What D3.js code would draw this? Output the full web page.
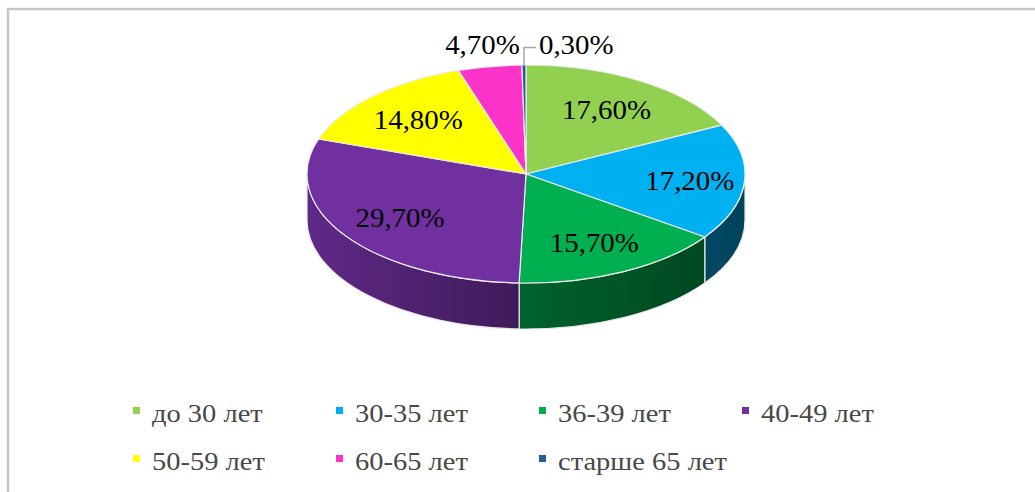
<!DOCTYPE html>
<html>
<head>
<meta charset="utf-8">
<script src="https://cdn.jsdelivr.net/npm/d3@7"></script>
<style>
  body { margin: 0; background: #fff; }
</style>
</head>
<body>
<svg id="chart" width="1035" height="492"></svg>
<script>
// data
var categories = ["до 30 лет", "30-35 лет", "36-39 лет", "40-49 лет", "50-59 лет", "60-65 лет", "старше 65 лет"];
var values = [17.6, 17.2, 15.7, 29.7, 14.8, 4.7, 0.3];
var labels = ["17,60%", "17,20%", "15,70%", "29,70%", "14,80%", "4,70%", "0,30%"];
var colors = ["#92d050", "#00b0f0", "#00b050", "#7030a0", "#ffff00", "#fb33c8", "#255e91"];

var serif = "'Liberation Serif', 'DejaVu Serif', serif";

var svg = d3.select("#chart")
  .style("font-family", serif);

// chart frame (only top and left edges are visible in the picture)
svg.append("rect")
  .attr("x", 8).attr("y", 9)
  .attr("width", 1200).attr("height", 600)
  .style("fill", "none")
  .style("stroke", "#c8c8c8")
  .style("stroke-width", 2.5);

var cx = 526, cy = 174, rx = 219, ry = 109, depth = 46;

var pie = d3.pie().sort(null).value(function(d) { return d; });
var arcs = pie(values);

// projected point on the ellipse, angle clockwise from 12 o'clock
function pt(a, dy) {
  return [cx + rx * Math.sin(a), cy - ry * Math.cos(a) + (dy || 0)];
}

var defs = svg.append("defs");
var shade = d3.scaleLinear().domain([cx - rx, cx, cx + rx]).range([0.85, 0.55, 0.38]);

arcs.forEach(function(d, i) {
  var g = defs.append("linearGradient")
    .attr("id", "side" + i)
    .attr("gradientUnits", "userSpaceOnUse")
    .attr("x1", cx - rx).attr("x2", cx + rx)
    .attr("y1", 0).attr("y2", 0);
  var c = d3.rgb(colors[i]);
  [cx - rx, cx, cx + rx].forEach(function(x, k) {
    var f = shade(x);
    g.append("stop")
      .attr("offset", k / 2)
      .attr("stop-color", d3.rgb(c.r * f, c.g * f, c.b * f));
  });
});

// sides: only the front half (pi/2 .. 3pi/2) is seen
var sides = svg.append("g");
arcs.forEach(function(d, i) {
  var b0 = Math.max(d.startAngle, Math.PI / 2);
  var b1 = Math.min(d.endAngle, Math.PI * 3 / 2);
  if (b1 <= b0) return;
  var p0 = pt(b0), p1 = pt(b1), q1 = pt(b1, depth), q0 = pt(b0, depth);
  var path = "M" + p0 + "A" + rx + "," + ry + " 0 0 1 " + p1 +
    "L" + q1 + "A" + rx + "," + ry + " 0 0 0 " + q0 + "Z";
  sides.append("path")
    .attr("d", path)
    .style("fill", "url(#side" + i + ")")
    .style("stroke", "#e8e8e8")
    .style("stroke-width", 1.2);
});

// top face
var topFace = svg.append("g");
arcs.forEach(function(d, i) {
  var p0 = pt(d.startAngle), p1 = pt(d.endAngle);
  var large = (d.endAngle - d.startAngle) > Math.PI ? 1 : 0;
  var path = "M" + cx + "," + cy + "L" + p0 +
    "A" + rx + "," + ry + " 0 " + large + " 1 " + p1 + "Z";
  topFace.append("path")
    .attr("d", path)
    .style("fill", colors[i])
    .style("stroke", "#ececec")
    .style("stroke-width", 1.2)
    .style("stroke-linejoin", "round");
});

// the source picture is slightly stretched sideways
function addText(parent, x, y, str, anchor, sx) {
  return parent.append("text")
    .attr("transform", "translate(" + x + "," + y + ") scale(" + sx + ",1)")
    .attr("text-anchor", anchor)
    .text(str);
}

// data labels
var lab = svg.append("g")
  .style("font-size", "27px")
  .style("fill", "#000");
arcs.forEach(function(d, i) {
  var mid = (d.startAngle + d.endAngle) / 2;
  var p;
  if (values[i] >= 10) {
    // slightly further out on the right-hand slice, like the original
    var k = Math.sin(mid) > 0.9 ? 0.75 : 0.7;
    p = [cx + rx * k * Math.sin(mid), cy - ry * k * Math.cos(mid)];
    addText(lab, p[0], p[1], labels[i], "middle", 1.07).attr("dy", "0.35em");
  } else if (values[i] >= 1) {
    p = [cx + rx * 1.2 * Math.sin(mid), cy - ry * 1.2 * Math.cos(mid)];
    addText(lab, p[0], p[1], labels[i], "middle", 1.07).attr("dy", "0.35em");
  } else {
    // tiny slice: label to the upper right with a leader line
    var e = pt(mid);
    var ly = cy - ry * 1.16;
    lab.append("path")
      .attr("d", "M" + e + "L" + e[0] + "," + ly + "L" + (e[0] + 12) + "," + ly)
      .style("fill", "none")
      .style("stroke", "#a6a6a6")
      .style("stroke-width", 1.5);
    addText(lab, e[0] + 15, ly - 3, labels[i], "start", 1.07).attr("dy", "0.35em");
  }
});

// legend
var legend = svg.append("g")
  .style("font-size", "25px")
  .selectAll("g").data(categories).enter().append("g")
  .attr("transform", function(d, i) {
    return "translate(" + (133 + (i % 4) * 203) + "," + (422 + Math.floor(i / 4) * 48) + ")";
  });

legend.append("rect")
  .attr("x", 0).attr("y", -15)
  .attr("width", 7).attr("height", 7)
  .style("fill", function(d, i) { return colors[i]; });

legend.each(function(d) {
  addText(d3.select(this), 19, 0, d, "start", 1.14).style("fill", "#484848");
});
</script>
</body>
</html>
